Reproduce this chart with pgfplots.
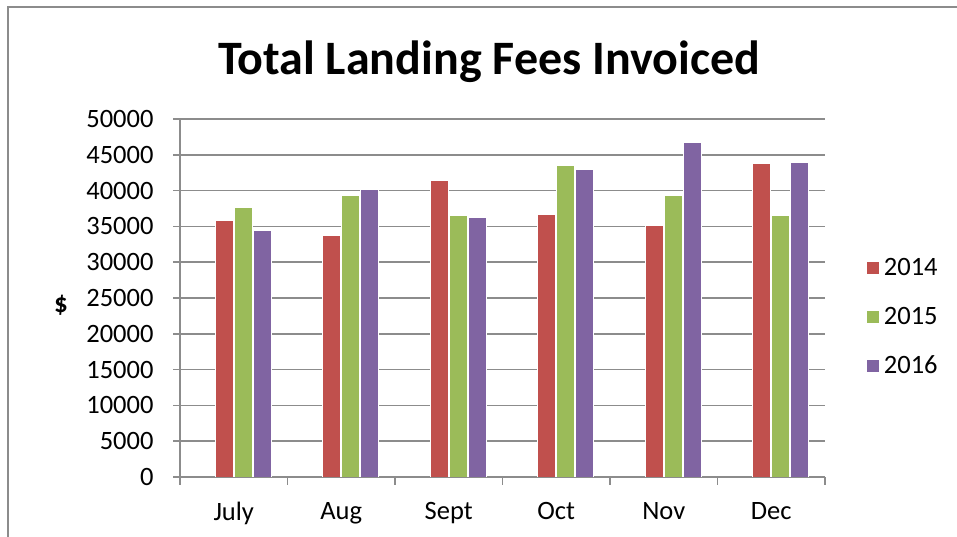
\documentclass[border=0pt]{standalone}
\usepackage{fontspec}
\setmainfont{Carlito}
\usepackage{pgfplots}
\pgfplotsset{compat=1.18}
\definecolor{c14}{HTML}{C0504D}
\definecolor{c15}{HTML}{9BBB59}
\definecolor{c16}{HTML}{8064A2}
\definecolor{gridc}{HTML}{8C8C8C}
\pgfplotstableread{
x y14 y15 y16
0 35800 37600 34480
1 33740 39350 40140
2 41360 36580 36260
3 36630 43500 43000
4 35080 39300 46780
5 43840 36490 43880
}\datatab
\begin{document}
\begin{tikzpicture}[x=1bp,y=1bp]
\useasboundingbox (0,0) rectangle (957,537);
\draw[gridc, line width=1.5bp] (8,0) -- (8,530) -- (957,530);
\node[font=\fontsize{48bp}{54bp}\selectfont\bfseries, anchor=base] at (489,462) {Total Landing Fees Invoiced};
\node[font=\fontsize{27bp}{30bp}\selectfont\bfseries] at (61,232) {\$};
\begin{axis}[
  at={(180bp,60bp)}, anchor=south west,
  scale only axis, width=645bp, height=358bp,
  xmin=-0.5, xmax=5.5, ymin=0, ymax=50000,
  ytick={0,5000,...,50000},
  scaled y ticks=false,
  /pgf/number format/.cd, fixed, 1000 sep={}, assume math mode=true, /pgfplots/.cd,
  xtick={0,...,5},
  xticklabels={July,Aug,Sept,Oct,Nov,Dec},
  minor xtick={-0.5,0.5,...,5.5},
  major x tick style={draw=none},
  ymajorgrids,
  grid style={gridc, line width=1.5bp},
  axis x line*=bottom, axis y line*=left,
  axis line style={gridc, line width=1.5bp, -},
  tick style={gridc, line width=1.5bp},
  tick align=outside,
  major tick length=7bp, minor tick length=8bp,
  ticklabel style={font=\fontsize{26.5bp}{30bp}\selectfont, text=black},
  yticklabel style={xshift=-16bp},
  xticklabel style={yshift=-15bp},
  legend style={at={(rel axis cs:1.06,0.447)}, anchor=west, draw=none, fill=none,
    font=\fontsize{26.5bp}{30bp}\selectfont, row sep=26bp, cells={anchor=west},
    nodes={inner xsep=5bp}},
  legend image code/.code={\fill[#1,draw=none] (0bp,-6bp) rectangle (12bp,6bp);},
]
\addplot[ybar, bar width=18bp, bar shift=-9.5bp, fill=c14, draw=white, line width=0.8bp] table[x=x,y=y14] {\datatab};
\addplot[ybar, bar width=18bp, bar shift=9.5bp, fill=c15, draw=white, line width=0.8bp] table[x=x,y=y15] {\datatab};
\addplot[ybar, bar width=18bp, bar shift=28.5bp, fill=c16, draw=white, line width=0.8bp] table[x=x,y=y16] {\datatab};
\legend{2014,2015,2016}
\end{axis}
\end{tikzpicture}
\end{document}
